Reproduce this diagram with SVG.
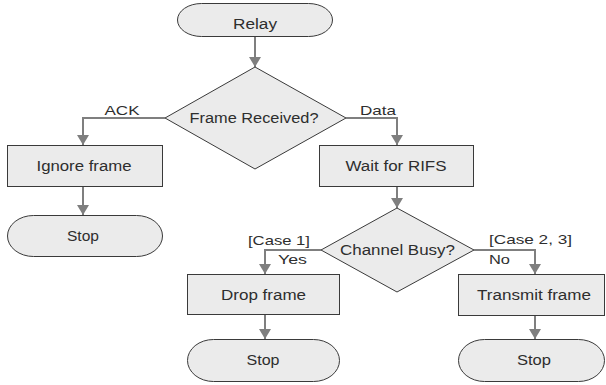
<svg xmlns="http://www.w3.org/2000/svg" width="606" height="385" viewBox="0 0 606 385">
<style>
.n{fill:#ebebeb;stroke:#3a3a3a;stroke-width:1}
.t{font-family:"Liberation Sans",Arial,sans-serif;font-size:14px;fill:#2e2e2e;text-anchor:middle}
.l{font-family:"Liberation Sans",Arial,sans-serif;font-size:13.5px;fill:#2e2e2e;text-anchor:middle}
.c{fill:none;stroke:#7f7f7f;stroke-width:2}
</style>
<defs>
<marker id="ah" markerUnits="userSpaceOnUse" viewBox="0 0 10 12" markerWidth="10" markerHeight="12" refX="10" refY="6" orient="auto">
<path d="M0,0 L10,6 L0,12 z" fill="#7f7f7f"/>
</marker>
</defs>
<rect width="606" height="385" fill="#ffffff"/>
<g id="connectors">
<path class="c" d="M255,37 V67" marker-end="url(#ah)"/>
<path class="c" d="M165,118 H83 V145" marker-end="url(#ah)"/>
<path class="c" d="M346,118 H397 V145" marker-end="url(#ah)"/>
<path class="c" d="M83,186 V215" marker-end="url(#ah)"/>
<path class="c" d="M397,187 V208" marker-end="url(#ah)"/>
<path class="c" d="M321,250 H265 V274" marker-end="url(#ah)"/>
<path class="c" d="M474,250 H535 V274" marker-end="url(#ah)"/>
<path class="c" d="M265,314 V339" marker-end="url(#ah)"/>
<path class="c" d="M535,315 V339" marker-end="url(#ah)"/>
<text class="l" x="122" y="115" textLength="35" lengthAdjust="spacingAndGlyphs">ACK</text>
<text class="l" x="378" y="115" textLength="36" lengthAdjust="spacingAndGlyphs">Data</text>
<text class="l" x="279" y="245" textLength="62" lengthAdjust="spacingAndGlyphs">[Case 1]</text>
<text class="l" x="292.5" y="264" textLength="29" lengthAdjust="spacingAndGlyphs">Yes</text>
<text class="l" x="530.5" y="244" textLength="83" lengthAdjust="spacingAndGlyphs">[Case 2, 3]</text>
<text class="l" x="499.5" y="264" textLength="21" lengthAdjust="spacingAndGlyphs">No</text>
</g>
<g id="relay">
<rect class="n" x="177.5" y="3.5" width="155" height="33" rx="24" ry="16.5"/>
<text class="t" x="255" y="29" textLength="44" lengthAdjust="spacingAndGlyphs">Relay</text>
</g>
<g id="frame-received">
<polygon class="n" points="255,67 346,118 255,169 165,118"/>
<text class="t" x="254" y="123" textLength="129" lengthAdjust="spacingAndGlyphs">Frame Received?</text>
</g>
<g id="ignore-frame">
<rect class="n" x="7.5" y="145.5" width="155" height="41"/>
<text class="t" x="84" y="171" textLength="95" lengthAdjust="spacingAndGlyphs">Ignore frame</text>
</g>
<g id="stop-1">
<rect class="n" x="7.5" y="215.5" width="155" height="41" rx="26" ry="20.5"/>
<text class="t" x="83" y="240.5" textLength="32" lengthAdjust="spacingAndGlyphs">Stop</text>
</g>
<g id="wait-rifs">
<rect class="n" x="319.5" y="145.5" width="154" height="41"/>
<text class="t" x="396" y="171" textLength="101" lengthAdjust="spacingAndGlyphs">Wait for RIFS</text>
</g>
<g id="channel-busy">
<polygon class="n" points="397,208 474,250 397,292 321,250"/>
<text class="t" x="397.5" y="254.5" textLength="115" lengthAdjust="spacingAndGlyphs">Channel Busy?</text>
</g>
<g id="drop-frame">
<rect class="n" x="187.5" y="274.5" width="152" height="40"/>
<text class="t" x="263.5" y="299.5" textLength="85" lengthAdjust="spacingAndGlyphs">Drop frame</text>
</g>
<g id="stop-2">
<rect class="n" x="187.5" y="339.5" width="152" height="42" rx="26" ry="21"/>
<text class="t" x="263" y="365" textLength="33" lengthAdjust="spacingAndGlyphs">Stop</text>
</g>
<g id="transmit-frame">
<rect class="n" x="458.5" y="274.5" width="146" height="41"/>
<text class="t" x="534" y="299.5" textLength="114" lengthAdjust="spacingAndGlyphs">Transmit frame</text>
</g>
<g id="stop-3">
<rect class="n" x="458.5" y="339.5" width="146" height="42" rx="26" ry="21"/>
<text class="t" x="534" y="365" textLength="34" lengthAdjust="spacingAndGlyphs">Stop</text>
</g>
</svg>
